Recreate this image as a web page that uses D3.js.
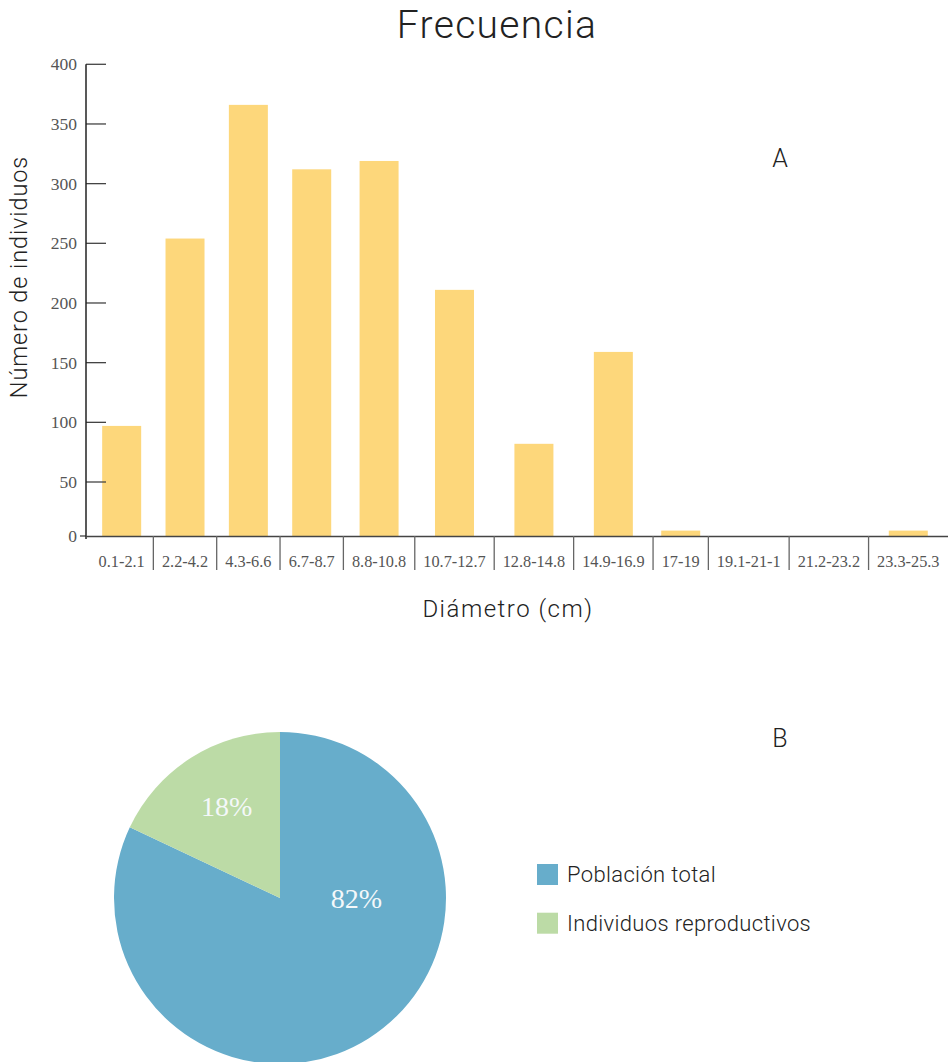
<!DOCTYPE html>
<html>
<head>
<meta charset="utf-8">
<script src="https://cdn.jsdelivr.net/npm/d3@7/dist/d3.min.js"></script>
<style>
  html, body { margin: 0; padding: 0; background: #fff; }
  svg { display: block; }
  .sans { font-family: Roboto, "Liberation Sans", sans-serif; font-weight: 300; fill: #222; }
  .serif { font-family: "Liberation Serif", serif; fill: #555; }
</style>
</head>
<body>
<svg id="chart" width="949" height="1062"></svg>
<script>
// ---- data ----
const categories = ["0.1-2.1", "2.2-4.2", "4.3-6.6", "6.7-8.7", "8.8-10.8", "10.7-12.7",
  "12.8-14.8", "14.9-16.9", "17-19", "19.1-21-1", "21.2-23.2", "23.3-25.3"];
const counts = [97, 254, 366, 312, 319, 211, 82, 159, 5, 0, 0, 5];
const yTicks = [0, 50, 100, 150, 200, 250, 300, 350, 400];
const pieLabels = ["Población total", "Individuos reproductivos"];
const pieValues = [82, 18];

// ---- styles ----
const barColor = "#fdd77b";
const pieColors = ["#67adcb", "#bcdba6"];

const svg = d3.select("#chart");

// Title
svg.append("text").attr("class", "sans")
  .attr("x", 497).attr("y", 38).attr("text-anchor", "middle")
  .style("font-size", "39px").style("letter-spacing", "1.3px").text("Frecuencia");

// ---- bar chart ----
const x0 = 86, x1 = 948, yBase = 536;
const y = d3.scaleLinear().domain([0, 50, 400]).range([yBase, 482, 64.3]);

const g = svg.append("g");

// x labels first (to measure band widths)
const labels = g.selectAll("text.xl").data(categories).join("text")
  .attr("class", "serif xl")
  .attr("y", 566.7).attr("text-anchor", "middle")
  .style("font-size", "16.3px")
  .text(d => d);
const widths = [];
labels.each(function () { widths.push(this.getComputedTextLength() + 18); });
const cum = [0];
widths.forEach((w, i) => cum.push(cum[i] + w));
const x = d3.scaleLinear().domain([0, cum[cum.length - 1]]).range([x0 + 4, x1]);
const bandStart = i => x(cum[i]);
const bandEnd = i => x(cum[i + 1]);
const bandMid = i => (bandStart(i) + bandEnd(i)) / 2;
labels.attr("x", (d, i) => bandMid(i));

// bars
const barW = 39;
g.selectAll("rect.bar").data(counts).join("rect")
  .attr("class", "bar")
  .attr("x", (d, i) => bandMid(i) - barW / 2)
  .attr("width", barW)
  .attr("y", d => y(d))
  .attr("height", d => yBase - y(d))
  .attr("fill", barColor);

// y axis
const yAxis = d3.axisLeft(y).tickValues(yTicks).tickSize(0).tickPadding(9);
const ya = g.append("g").attr("transform", `translate(${x0},0)`).call(yAxis);
ya.select(".domain").remove();
ya.selectAll("text").attr("class", "serif").attr("fill", null)
  .style("font-size", "17.5px").style("font-family", "Liberation Serif, serif");
// inner tick marks
g.selectAll("line.yt").data(yTicks.filter(t => t > 0)).join("line")
  .attr("class", "yt")
  .attr("x1", x0).attr("x2", x0 + 20)
  .attr("y1", d => y(d)).attr("y2", d => y(d))
  .attr("stroke", "#444").attr("stroke-width", 1.3);
g.append("line").attr("x1", x0 - 6).attr("x2", x0).attr("y1", y(0)).attr("y2", y(0))
  .attr("stroke", "#444").attr("stroke-width", 1.3);
// y domain line
g.append("line").attr("x1", x0).attr("x2", x0).attr("y1", y(400)).attr("y2", yBase + 3)
  .attr("stroke", "#222").attr("stroke-width", 1.5);
// x baseline
g.append("line").attr("x1", x0).attr("x2", x1).attr("y1", yBase + 0.5).attr("y2", yBase + 0.5)
  .attr("stroke", "#444").attr("stroke-width", 1.3);
// separators
g.selectAll("line.sep").data(d3.range(1, categories.length)).join("line")
  .attr("class", "sep")
  .attr("x1", i => bandStart(i)).attr("x2", i => bandStart(i))
  .attr("y1", yBase).attr("y2", 570)
  .attr("stroke", "#666").attr("stroke-width", 1.3);

// axis titles
svg.append("text").attr("class", "sans")
  .attr("x", 508).attr("y", 617).attr("text-anchor", "middle")
  .style("font-size", "24px").style("letter-spacing", "1.5px").text("Diámetro (cm)");
svg.append("text").attr("class", "sans")
  .attr("transform", "translate(27,277) rotate(-90)").attr("text-anchor", "middle")
  .style("font-size", "23.5px").style("letter-spacing", "0.9px").text("Número de individuos");

// panel letters
svg.append("text").attr("class", "sans").attr("x", 780).attr("y", 167)
  .attr("text-anchor", "middle").style("font-size", "25px").text("A");
svg.append("text").attr("class", "sans").attr("x", 780).attr("y", 747)
  .attr("text-anchor", "middle").style("font-size", "25px").text("B");

// ---- pie ----
const cx = 280, cy = 898, R = 166;
const pie = d3.pie().sort(null).value(d => d);
const arcs = pie(pieValues);
const arc = d3.arc().innerRadius(0).outerRadius(R);
const pg = svg.append("g").attr("transform", `translate(${cx},${cy})`);
pg.selectAll("path").data(arcs).join("path")
  .attr("d", arc).attr("fill", (d, i) => pieColors[i]);

const labelK = [0.46, 0.64];
pg.selectAll("text.pl").data(arcs).join("text")
  .attr("class", "pl")
  .attr("transform", (d, i) => {
    let mid = (d.startAngle + d.endAngle) / 2;
    if (mid > Math.PI / 2 && mid < 3 * Math.PI / 2) mid = Math.PI / 2;
    else mid += 0.04;
    const r = R * labelK[i];
    return `translate(${r * Math.sin(mid)},${-r * Math.cos(mid)})`;
  })
  .attr("text-anchor", "middle").attr("dy", "0.35em")
  .style("font-family", "Liberation Serif, serif").style("font-size", "28px")
  .attr("fill", "#f4f8fa")
  .text(d => Math.round(d.data / d3.sum(pieValues) * 100) + "%");

// legend
const lg = svg.append("g").attr("transform", "translate(537,864)");
const items = lg.selectAll("g").data(pieLabels).join("g")
  .attr("transform", (d, i) => `translate(0,${i * 48.7})`);
items.append("rect").attr("width", 21).attr("height", 21)
  .attr("fill", (d, i) => pieColors[i]);
items.append("text").attr("class", "sans")
  .attr("x", 30).attr("y", 10.5).attr("dy", "0.36em")
  .style("font-size", "22px").style("letter-spacing", "0.35px").text(d => d);
</script>
</body>
</html>
